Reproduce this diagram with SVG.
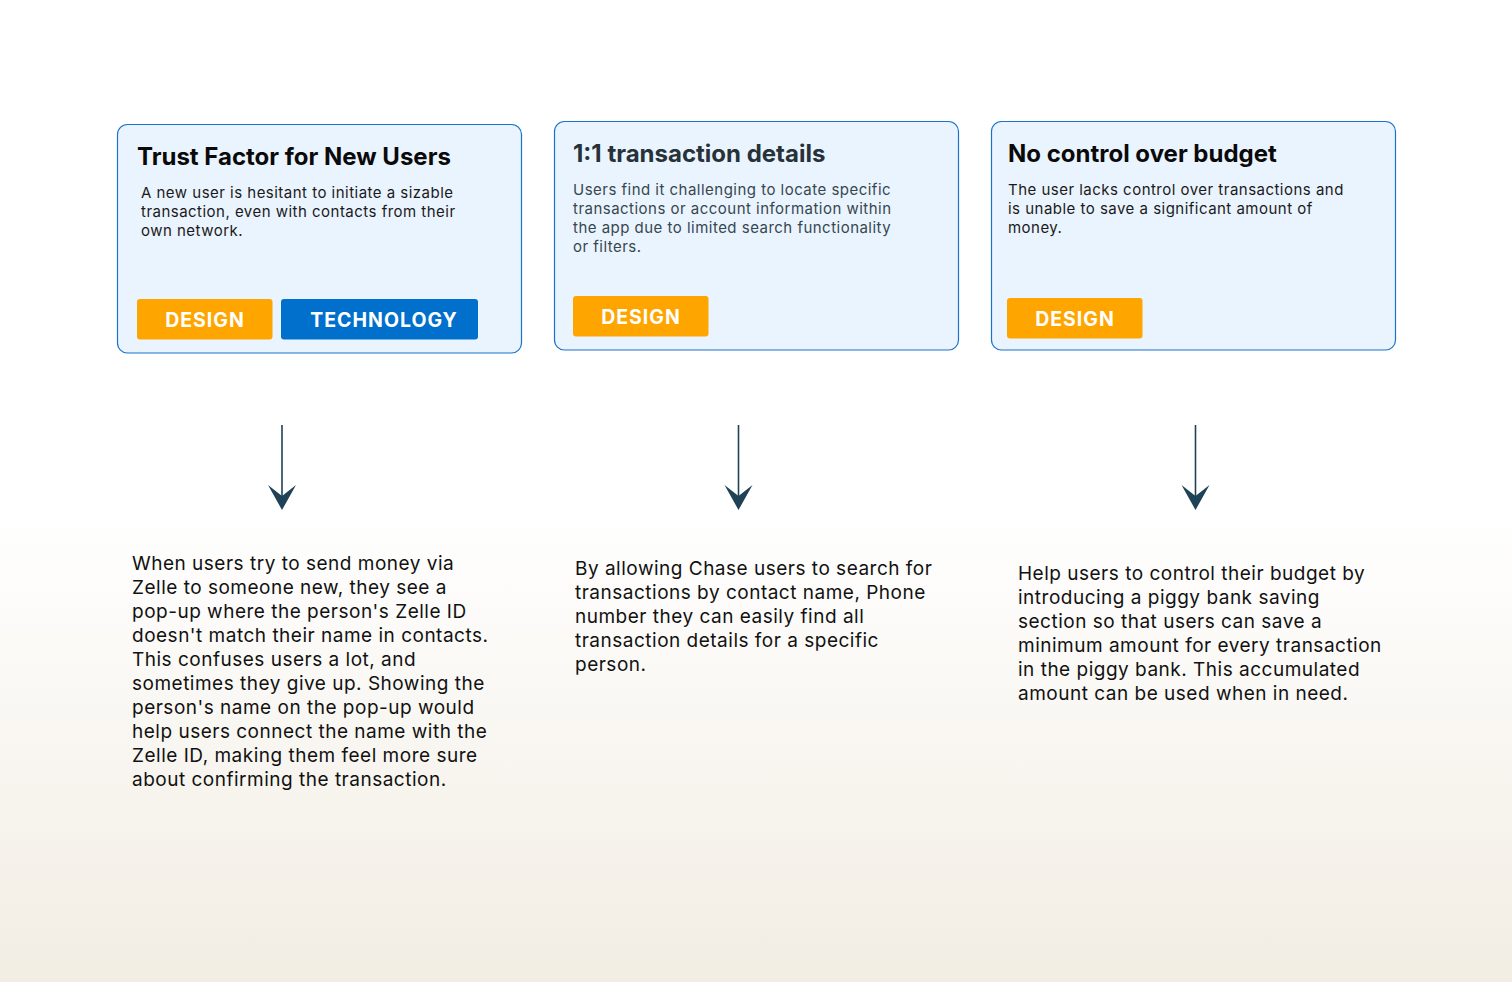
<svg xmlns="http://www.w3.org/2000/svg" width="1512" height="982" viewBox="0 0 1512 982">
<defs>
<linearGradient id="bg" x1="0" y1="0" x2="0" y2="1">
<stop offset="0" stop-color="#ffffff"/>
<stop offset="0.52" stop-color="#ffffff"/>
<stop offset="1" stop-color="#f2ede3"/>
</linearGradient>
<style>
.card{fill:#eaf4fe;stroke:#1a73c9;stroke-width:1.2}
.title{font-family:Inter,"Liberation Sans",sans-serif;font-weight:700;font-size:24px;fill:#0a0a0a}
.body{font-family:Inter,"Liberation Sans",sans-serif;font-size:15px;fill:#1a1a1a;letter-spacing:0.48px}
.tagD{fill:#ffa500}
.tagT{fill:#0070cc}
.tagtxt{font-family:Inter,"Liberation Sans",sans-serif;font-weight:700;font-size:19.5px;fill:#ffffff;letter-spacing:1px;text-anchor:middle}
.sol{font-family:Inter,"Liberation Sans",sans-serif;font-size:19px;fill:#111111;letter-spacing:0.5px}
.line{stroke:#1f4257;stroke-width:1.6;fill:none}
.head{fill:#1f4257}
</style>
</defs>
<rect x="0" y="0" width="1512" height="982" fill="url(#bg)"/>

<g id="card1">
<rect class="card" x="117.5" y="124.5" width="404" height="228.5" rx="10"/>
<text class="title" x="137" y="165">Trust Factor for New Users</text>
<text class="body" x="141" y="198">A new user is hesitant to initiate a sizable</text>
<text class="body" x="141" y="217">transaction, even with contacts from their</text>
<text class="body" x="141" y="236">own network.</text>
<rect class="tagD" x="137" y="299" width="135.5" height="40.5" rx="3"/>
<text class="tagtxt" x="205" y="327">DESIGN</text>
<rect class="tagT" x="281" y="299" width="197" height="40.5" rx="3"/>
<text class="tagtxt" x="384" y="327">TECHNOLOGY</text>
</g>

<g id="card2">
<rect class="card" x="554.5" y="121.5" width="404" height="228.5" rx="10"/>
<text class="title" x="573" y="162" style="fill:#263238">1:1 transaction details</text>
<text class="body" x="573" y="195" style="fill:#37474f">Users find it challenging to locate specific</text>
<text class="body" x="573" y="214" style="fill:#37474f">transactions or account information within</text>
<text class="body" x="573" y="233" style="fill:#37474f">the app due to limited search functionality</text>
<text class="body" x="573" y="252" style="fill:#37474f">or filters.</text>
<rect class="tagD" x="573" y="296" width="135.5" height="40.5" rx="3"/>
<text class="tagtxt" x="641" y="324">DESIGN</text>
</g>

<g id="card3">
<rect class="card" x="991.5" y="121.5" width="404" height="228.5" rx="10"/>
<text class="title" x="1008" y="162">No control over budget</text>
<text class="body" x="1008" y="195">The user lacks control over transactions and</text>
<text class="body" x="1008" y="214">is unable to save a significant amount of</text>
<text class="body" x="1008" y="233">money.</text>
<rect class="tagD" x="1007" y="298" width="135.5" height="40.5" rx="3"/>
<text class="tagtxt" x="1075" y="326">DESIGN</text>
</g>

<g id="connectors">
<line class="line" x1="282" y1="425" x2="282" y2="500"/>
<path class="head" d="M268,485 L282,496 L296,485 L282,510 Z"/>
<line class="line" x1="738.5" y1="425" x2="738.5" y2="500"/>
<path class="head" d="M724.5,485 L738.5,496 L752.5,485 L738.5,510 Z"/>
<line class="line" x1="1195.5" y1="425" x2="1195.5" y2="500"/>
<path class="head" d="M1181.5,485 L1195.5,496 L1209.5,485 L1195.5,510 Z"/>
</g>

<g id="solution1">
<text class="sol" x="132" y="570">When users try to send money via</text>
<text class="sol" x="132" y="594">Zelle to someone new, they see a</text>
<text class="sol" x="132" y="618">pop-up where the person's Zelle ID</text>
<text class="sol" x="132" y="642">doesn't match their name in contacts.</text>
<text class="sol" x="132" y="666">This confuses users a lot, and</text>
<text class="sol" x="132" y="690">sometimes they give up. Showing the</text>
<text class="sol" x="132" y="714">person's name on the pop-up would</text>
<text class="sol" x="132" y="738">help users connect the name with the</text>
<text class="sol" x="132" y="762">Zelle ID, making them feel more sure</text>
<text class="sol" x="132" y="786">about confirming the transaction.</text>
</g>

<g id="solution2">
<text class="sol" x="575" y="575">By allowing Chase users to search for</text>
<text class="sol" x="575" y="599">transactions by contact name, Phone</text>
<text class="sol" x="575" y="623">number they can easily find all</text>
<text class="sol" x="575" y="647">transaction details for a specific</text>
<text class="sol" x="575" y="671">person.</text>
</g>

<g id="solution3">
<text class="sol" x="1018" y="580">Help users to control their budget by</text>
<text class="sol" x="1018" y="604">introducing a piggy bank saving</text>
<text class="sol" x="1018" y="628">section so that users can save a</text>
<text class="sol" x="1018" y="652">minimum amount for every transaction</text>
<text class="sol" x="1018" y="676">in the piggy bank. This accumulated</text>
<text class="sol" x="1018" y="700">amount can be used when in need.</text>
</g>
</svg>
